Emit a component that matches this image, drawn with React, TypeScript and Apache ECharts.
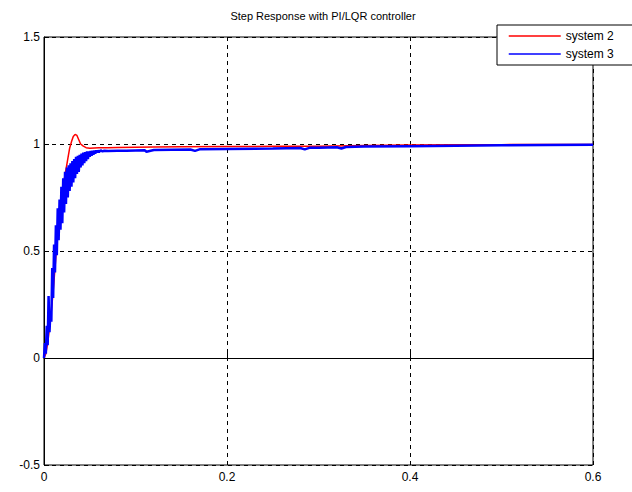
import React, { useEffect, useRef } from "react";
import * as echarts from "echarts";

const TITLE = "Step Response with PI/LQR controller";
const SERIES_NAMES = ["system 2", "system 3"];
const X_TICKS = [0, 0.2, 0.4, 0.6];
const Y_TICKS = [-0.5, 0, 0.5, 1, 1.5];

// system 2 (red)
const T2 = [
  0, 0.002, 0.004, 0.006, 0.008, 0.01, 0.012, 0.014, 0.016, 0.018, 0.02, 0.022,
  0.024, 0.026, 0.028, 0.03, 0.032, 0.034, 0.036, 0.038, 0.04, 0.043, 0.046,
  0.05, 0.055, 0.06, 0.07, 0.08, 0.1, 0.12, 0.15, 0.2, 0.25, 0.3, 0.35, 0.4,
  0.45, 0.5, 0.55, 0.6,
];
const Y2 = [
  0, 0.02, 0.07, 0.14, 0.22, 0.31, 0.42, 0.53, 0.62, 0.7, 0.77, 0.83, 0.88,
  0.93, 0.98, 1.01, 1.035, 1.045, 1.04, 1.02, 1.0, 0.99, 0.983, 0.98, 0.981,
  0.982, 0.983, 0.984, 0.985, 0.986, 0.987, 0.988, 0.989, 0.99, 0.993, 0.995,
  0.996, 0.997, 0.998, 0.998,
];

// system 3 (blue) – oscillating rise
const T3 = [
  0, 0.001, 0.002, 0.003, 0.004, 0.005, 0.006, 0.007, 0.008, 0.009, 0.01,
  0.011, 0.012, 0.013, 0.014, 0.015, 0.016, 0.017, 0.018, 0.019, 0.02, 0.021,
  0.022, 0.023, 0.024, 0.025, 0.026, 0.027, 0.028, 0.029, 0.03, 0.031, 0.032,
  0.033, 0.034, 0.035, 0.036, 0.037, 0.038, 0.039, 0.04, 0.041, 0.042, 0.043,
  0.044, 0.045, 0.046, 0.047, 0.048, 0.049, 0.05, 0.051, 0.052, 0.053, 0.054,
  0.055, 0.056, 0.057, 0.058, 0.059, 0.06, 0.062, 0.064, 0.066, 0.07, 0.08,
  0.09, 0.1, 0.11, 0.112, 0.12, 0.14, 0.16, 0.165, 0.17, 0.2, 0.25, 0.28,
  0.285, 0.29, 0.3, 0.32, 0.325, 0.33, 0.35, 0.4, 0.45, 0.5, 0.55, 0.6,
];
const Y3 = [
  0, 0.07, 0.02, 0.15, 0.06, 0.29, 0.12, 0.22, 0.17, 0.42, 0.28, 0.53, 0.4,
  0.62, 0.48, 0.7, 0.55, 0.74, 0.6, 0.8, 0.63, 0.84, 0.68, 0.87, 0.72, 0.89,
  0.75, 0.9, 0.78, 0.91, 0.8, 0.92, 0.82, 0.93, 0.84, 0.94, 0.86, 0.945, 0.87,
  0.95, 0.89, 0.955, 0.9, 0.96, 0.91, 0.962, 0.92, 0.965, 0.93, 0.966, 0.94,
  0.968, 0.945, 0.968, 0.95, 0.969, 0.955, 0.97, 0.96, 0.97, 0.962, 0.97,
  0.965, 0.969, 0.967, 0.968, 0.969, 0.97, 0.971, 0.964, 0.972, 0.973, 0.974,
  0.968, 0.975, 0.977, 0.979, 0.981, 0.975, 0.982, 0.983, 0.985, 0.979, 0.986,
  0.988, 0.99, 0.992, 0.994, 0.995, 0.996,
];

export default function App() {
  const ref = useRef<HTMLDivElement>(null);
  useEffect(() => {
    if (!ref.current) return;
    const chart = echarts.init(ref.current, undefined, { renderer: "svg" });
    const font = "Liberation Sans, Arial, sans-serif";
    chart.setOption({
      animation: false,
      backgroundColor: "#ffffff",
      title: {
        text: TITLE,
        left: 318,
        top: 5,
        textAlign: "center",
        textStyle: { fontSize: 11, fontWeight: "normal", color: "#000", fontFamily: font },
      },
      legend: {
        orient: "vertical",
        left: 497,
        top: 25,
        padding: [5, 20, 5, 11],
        itemGap: 6,
        itemWidth: 52,
        itemHeight: 14,
        backgroundColor: "#fff",
        borderColor: "#000",
        borderWidth: 1,
        borderRadius: 0,
        data: SERIES_NAMES,
        itemStyle: { opacity: 0 },
        lineStyle: { width: 1.5 },
        textStyle: { fontSize: 12, color: "#000", fontFamily: font },
      },
      grid: {
        left: 44,
        top: 37,
        width: 549,
        height: 428,
        show: true,
        borderColor: "#000",
        borderWidth: 1,
        backgroundColor: "#fff",
      },
      xAxis: {
        type: "value",
        min: X_TICKS[0],
        max: X_TICKS[X_TICKS.length - 1],
        interval: 0.2,
        axisLine: { show: true, lineStyle: { color: "#000", width: 1 } },
        axisTick: { show: true, inside: true, length: 5, lineStyle: { color: "#000" } },
        axisLabel: { color: "#000", fontSize: 12, margin: 6, fontFamily: font },
        splitLine: { show: true, lineStyle: { color: "#000", type: [4, 4], width: 1 } },
      },
      yAxis: {
        type: "value",
        min: Y_TICKS[0],
        max: Y_TICKS[Y_TICKS.length - 1],
        interval: 0.5,
        axisLine: { show: true, lineStyle: { color: "#000", width: 1 } },
        axisTick: { show: true, inside: true, length: 5, lineStyle: { color: "#000" } },
        axisLabel: { color: "#000", fontSize: 12, margin: 4, fontFamily: font },
        splitLine: { show: true, lineStyle: { color: "#000", type: [4, 4], width: 1 } },
      },
      series: [
        {
          name: SERIES_NAMES[0],
          type: "line",
          symbol: "none",
          data: T2.map((t, i) => [t, Y2[i]]),
          lineStyle: { color: "#ff0000", width: 1.5 },
          itemStyle: { color: "#ff0000" },
          z: 2,
        },
        {
          name: SERIES_NAMES[1],
          type: "line",
          symbol: "none",
          data: T3.map((t, i) => [t, Y3[i]]),
          lineStyle: { color: "#0000ff", width: 2.5 },
          itemStyle: { color: "#0000ff" },
          z: 3,
        },
      ],
    });
    return () => chart.dispose();
  }, []);
  return (
    <div
      ref={ref}
      style={{ position: "absolute", left: 0, top: 0, width: 632, height: 492, background: "#fff" }}
    />
  );
}
